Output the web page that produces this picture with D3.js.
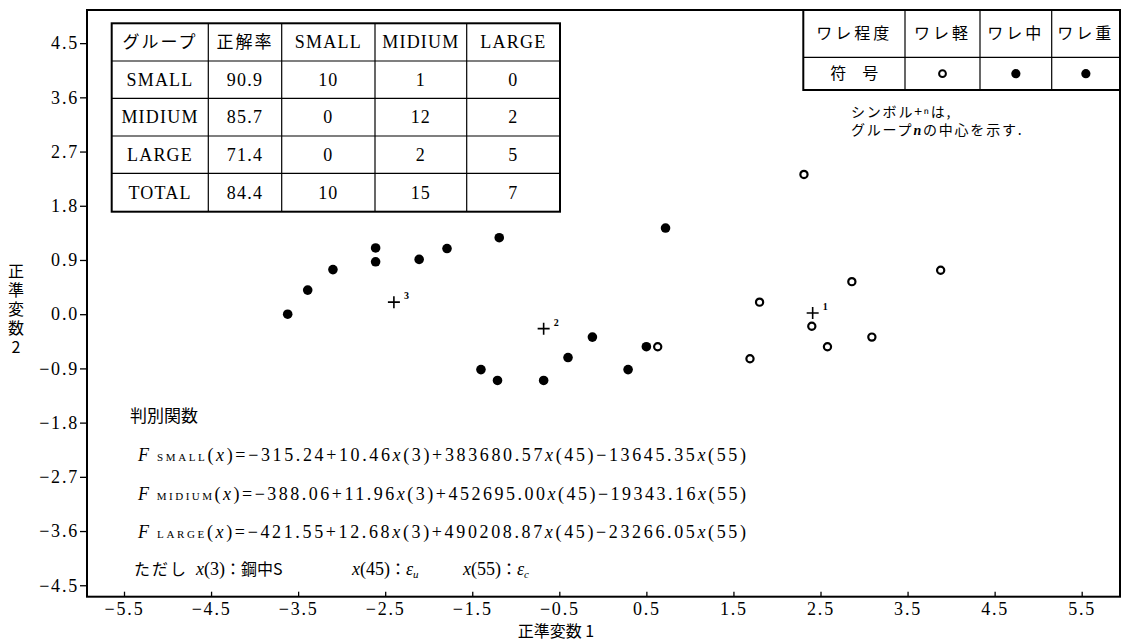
<!DOCTYPE html>
<html>
<head>
<meta charset="utf-8">
<script src="https://cdn.jsdelivr.net/npm/d3@7"></script>
<style>
  body { margin: 0; background: #fff; }
  svg { display: block; }
  .num { font-family: "Liberation Serif", "DejaVu Serif", serif; fill: #000; }
  .jp { font-family: "Noto Sans CJK JP", sans-serif; fill: #000; }
</style>
</head>
<body>
<svg id="chart" width="1129" height="642"></svg>
<script>
// --- data ---
// ワレ軽 (open circles): [canonical var 1, canonical var 2]
var lightPts = [
  [0.63, -0.54], [2.31, 2.32], [3.88, 0.73], [2.86, 0.54], [1.80, 0.20],
  [2.40, -0.20], [3.09, -0.38], [2.58, -0.54], [1.69, -0.74]
];
// ワレ中 / ワレ重 (filled circles)
var heavyPts = [
  [-3.62, 0.00], [-3.39, 0.40], [-3.10, 0.74], [-2.61, 1.10], [-2.61, 0.87],
  [-2.11, 0.91], [-1.79, 1.09], [-1.19, 1.27], [0.72, 1.43], [-0.12, -0.38],
  [-0.40, -0.72], [-1.40, -0.92], [-1.21, -1.10], [-0.68, -1.10], [0.29, -0.92],
  [0.50, -0.54]
];
// group centres (+n)
var centreIds = ["1", "2", "3"];
var centreX = [2.41, -0.68, -2.40];
var centreY = [0.02, -0.24, 0.20];

var xTicks = [-5.5, -4.5, -3.5, -2.5, -1.5, -0.5, 0.5, 1.5, 2.5, 3.5, 4.5, 5.5];
var yTicks = [-4.5, -3.6, -2.7, -1.8, -0.9, 0, 0.9, 1.8, 2.7, 3.6, 4.5];

// classification table
var tblHead = ["グループ", "正解率", "SMALL", "MIDIUM", "LARGE"];
var tblRows = [
  ["SMALL", "90.9", "10", "1", "0"],
  ["MIDIUM", "85.7", "0", "12", "2"],
  ["LARGE", "71.4", "0", "2", "5"],
  ["TOTAL", "84.4", "10", "15", "7"]
];

// legend table
var crackHead = ["ワレ程度", "ワレ軽", "ワレ中", "ワレ重"];
var crackSym = ["符　号", "open", "filled", "filled"];

// discriminant functions
var fNames = ["SMALL", "MIDIUM", "LARGE"];
var fConst = ["315.24", "388.06", "421.55"];
var fC3 = ["10.46", "11.96", "12.68"];
var fC45 = ["383680.57", "452695.00", "490208.87"];
var fC55 = ["13645.35", "19343.16", "23266.05"];

// --- layout ---
var svg = d3.select("#chart");
var pL = 87, pR = 1120, pT = 10, pB = 596.7;

var x = d3.scaleLinear().domain([-5.925, 5.94]).range([pL, pR]);
var y = d3.scaleLinear().domain([-4.69, 5.05]).range([pB, pT]);

var fmt = d3.format(".1f");

// axes
var xAxis = svg.append("g")
  .attr("transform", "translate(0," + pB + ")")
  .call(d3.axisBottom(x).tickValues(xTicks).tickSizeInner(-5).tickSizeOuter(0)
    .tickPadding(6).tickFormat(fmt));
var yAxis = svg.append("g")
  .attr("transform", "translate(" + pL + ",0)")
  .call(d3.axisLeft(y).tickValues(yTicks).tickSizeInner(7).tickSizeOuter(0)
    .tickPadding(1).tickFormat(fmt));

[xAxis, yAxis].forEach(function (a) {
  a.select(".domain").remove();
  a.selectAll(".tick line").attr("stroke", "#000").attr("stroke-width", 1.3);
  a.selectAll(".tick text")
    .attr("class", "num")
    .attr("fill", "#000")
    .style("font-size", "18px")
    .style("letter-spacing", "1.8px");
});

// frame
svg.append("rect")
  .attr("x", pL).attr("y", pT)
  .attr("width", pR - pL).attr("height", pB - pT)
  .attr("fill", "none").attr("stroke", "#000").attr("stroke-width", 2);

// axis titles
svg.append("text").attr("class", "jp")
  .attr("x", 556).attr("y", 637)
  .attr("text-anchor", "middle")
  .style("font-size", "16px")
  .text("正準変数 1");

svg.append("text").attr("class", "jp")
  .attr("x", 16).attr("y", 263)
  .style("font-size", "16px")
  .style("writing-mode", "vertical-rl")
  .style("text-orientation", "upright")
  .style("letter-spacing", "3px")
  .text("正準変数2");

// points
svg.append("g").selectAll("circle")
  .data(heavyPts)
  .enter().append("circle")
  .attr("cx", function (d) { return x(d[0]); })
  .attr("cy", function (d) { return y(d[1]); })
  .attr("r", 4.8)
  .attr("fill", "#000");

svg.append("g").selectAll("circle")
  .data(lightPts)
  .enter().append("circle")
  .attr("cx", function (d) { return x(d[0]); })
  .attr("cy", function (d) { return y(d[1]); })
  .attr("r", 3.6)
  .attr("fill", "#fff")
  .attr("stroke", "#000")
  .attr("stroke-width", 2.2);

// centres
var centres = svg.append("g").selectAll("g")
  .data(centreIds)
  .enter().append("g")
  .attr("transform", function (d, i) {
    return "translate(" + x(centreX[i]) + "," + y(centreY[i]) + ")";
  });
centres.append("path")
  .attr("d", "M-6,0H6M0,-6V6")
  .attr("stroke", "#000").attr("stroke-width", 1.6);
centres.append("text").attr("class", "num")
  .attr("x", 10).attr("y", -3)
  .style("font-size", "10px").style("font-weight", "bold")
  .text(function (d) { return d; });

// classification table
var colX = [111.7, 208.3, 281.7, 375, 466.7, 560];
var rowY = [23.3, 61, 98.3, 136, 173.3, 211.7];
var t1 = svg.append("g");
t1.append("rect")
  .attr("x", colX[0]).attr("y", rowY[0])
  .attr("width", colX[5] - colX[0]).attr("height", rowY[5] - rowY[0])
  .attr("fill", "#fff").attr("stroke", "#000").attr("stroke-width", 2);
colX.slice(1, -1).forEach(function (cx) {
  t1.append("line").attr("x1", cx).attr("x2", cx)
    .attr("y1", rowY[0]).attr("y2", rowY[5])
    .attr("stroke", "#000").attr("stroke-width", 1.2);
});
rowY.slice(1, -1).forEach(function (ry) {
  t1.append("line").attr("x1", colX[0]).attr("x2", colX[5])
    .attr("y1", ry).attr("y2", ry)
    .attr("stroke", "#000").attr("stroke-width", 1.2);
});
[tblHead].concat(tblRows).forEach(function (row, r) {
  row.forEach(function (cell, c) {
    var isJp = /[^\x00-\x7f]/.test(cell);
    t1.append("text")
      .attr("class", isJp ? "jp" : "num")
      .attr("x", (colX[c] + colX[c + 1]) / 2)
      .attr("y", (rowY[r] + rowY[r + 1]) / 2)
      .attr("dy", "0.35em")
      .attr("text-anchor", "middle")
      .style("font-size", isJp ? "17px" : "18px")
      .style("letter-spacing", isJp ? "2px" : "1.2px")
      .text(cell);
  });
});

// legend table
var lcX = [803.3, 905, 980, 1051.7, 1120];
var lrY = [10, 57.3, 90];
var t2 = svg.append("g");
t2.append("rect")
  .attr("x", lcX[0]).attr("y", lrY[0])
  .attr("width", lcX[4] - lcX[0]).attr("height", lrY[2] - lrY[0])
  .attr("fill", "#fff").attr("stroke", "#000").attr("stroke-width", 2);
lcX.slice(1, -1).forEach(function (cx) {
  t2.append("line").attr("x1", cx).attr("x2", cx)
    .attr("y1", lrY[0]).attr("y2", lrY[2])
    .attr("stroke", "#000").attr("stroke-width", 1.2);
});
t2.append("line").attr("x1", lcX[0]).attr("x2", lcX[4])
  .attr("y1", lrY[1]).attr("y2", lrY[1])
  .attr("stroke", "#000").attr("stroke-width", 1.2);
crackHead.forEach(function (h, c) {
  t2.append("text").attr("class", "jp")
    .attr("x", (lcX[c] + lcX[c + 1]) / 2).attr("y", (lrY[0] + lrY[1]) / 2)
    .attr("dy", "0.36em").attr("text-anchor", "middle")
    .style("font-size", "16px").style("letter-spacing", "3px")
    .text(h);
});
crackSym.forEach(function (s, c) {
  var cx = (lcX[c] + lcX[c + 1]) / 2, cy = (lrY[1] + lrY[2]) / 2;
  if (s === "open") {
    t2.append("circle").attr("cx", cx).attr("cy", cy).attr("r", 3.4)
      .attr("fill", "#fff").attr("stroke", "#000").attr("stroke-width", 2);
  } else if (s === "filled") {
    t2.append("circle").attr("cx", cx).attr("cy", cy).attr("r", 4.6).attr("fill", "#000");
  } else {
    t2.append("text").attr("class", "jp")
      .attr("x", cx).attr("y", cy).attr("dy", "0.36em").attr("text-anchor", "middle")
      .style("font-size", "16px").text(s);
  }
});

// note
var note = svg.append("text").attr("class", "jp").style("font-size", "14px")
  .style("letter-spacing", "1.8px");
note.append("tspan").attr("x", 851).attr("y", 117).text("シンボル+ⁿは,");
note.append("tspan").attr("x", 851).attr("y", 135).text("グループ").append("tspan")
  .attr("class", "num").style("font-style", "italic").style("font-weight", "bold").text("n");
note.append("tspan").text("の中心を示す.");

// discriminant functions
svg.append("text").attr("class", "jp")
  .attr("x", 130).attr("y", 422)
  .style("font-size", "17px")
  .text("判別関数");

fNames.forEach(function (name, i) {
  var t = svg.append("text").attr("class", "num")
    .attr("x", 138).attr("y", 461 + i * 38.5)
    .attr("textLength", 608).attr("lengthAdjust", "spacing")
    .style("font-size", "18px");
  var segs = [
    ["F", "i"], [" " + name, "sc"], ["(", ""], ["x", "i"],
    [")=−" + fConst[i] + "+" + fC3[i], ""], ["x", "i"],
    ["(3)+" + fC45[i], ""], ["x", "i"],
    ["(45)−" + fC55[i], ""], ["x", "i"], ["(55)", ""]
  ];
  segs.forEach(function (s) {
    var sp = t.append("tspan").text(s[0]);
    if (s[1] === "i") sp.style("font-style", "italic");
    if (s[1] === "sc") sp.style("font-size", "11px");
  });
});

var note2 = svg.append("text").attr("class", "num").attr("y", 575).style("font-size", "18px");
note2.append("tspan").attr("class", "jp").attr("x", 134).style("font-size", "16px")
  .style("letter-spacing", "2px").text("ただし");
note2.append("tspan").attr("x", 196).style("font-style", "italic").text("x");
note2.append("tspan").text("(3)");
note2.append("tspan").attr("class", "jp").style("font-size", "16px").text("：鋼中S");
note2.append("tspan").attr("x", 352).style("font-style", "italic").text("x");
note2.append("tspan").text("(45)");
note2.append("tspan").attr("class", "jp").style("font-size", "16px").text("：");
note2.append("tspan").style("font-style", "italic").text("ε");
note2.append("tspan").style("font-style", "italic").style("font-size", "11px").attr("dy", 3).text("u");
note2.append("tspan").attr("x", 463).attr("dy", -3).style("font-style", "italic").text("x");
note2.append("tspan").text("(55)");
note2.append("tspan").attr("class", "jp").style("font-size", "16px").text("：");
note2.append("tspan").style("font-style", "italic").text("ε");
note2.append("tspan").style("font-style", "italic").style("font-size", "11px").attr("dy", 3).text("c");
</script>
</body>
</html>
